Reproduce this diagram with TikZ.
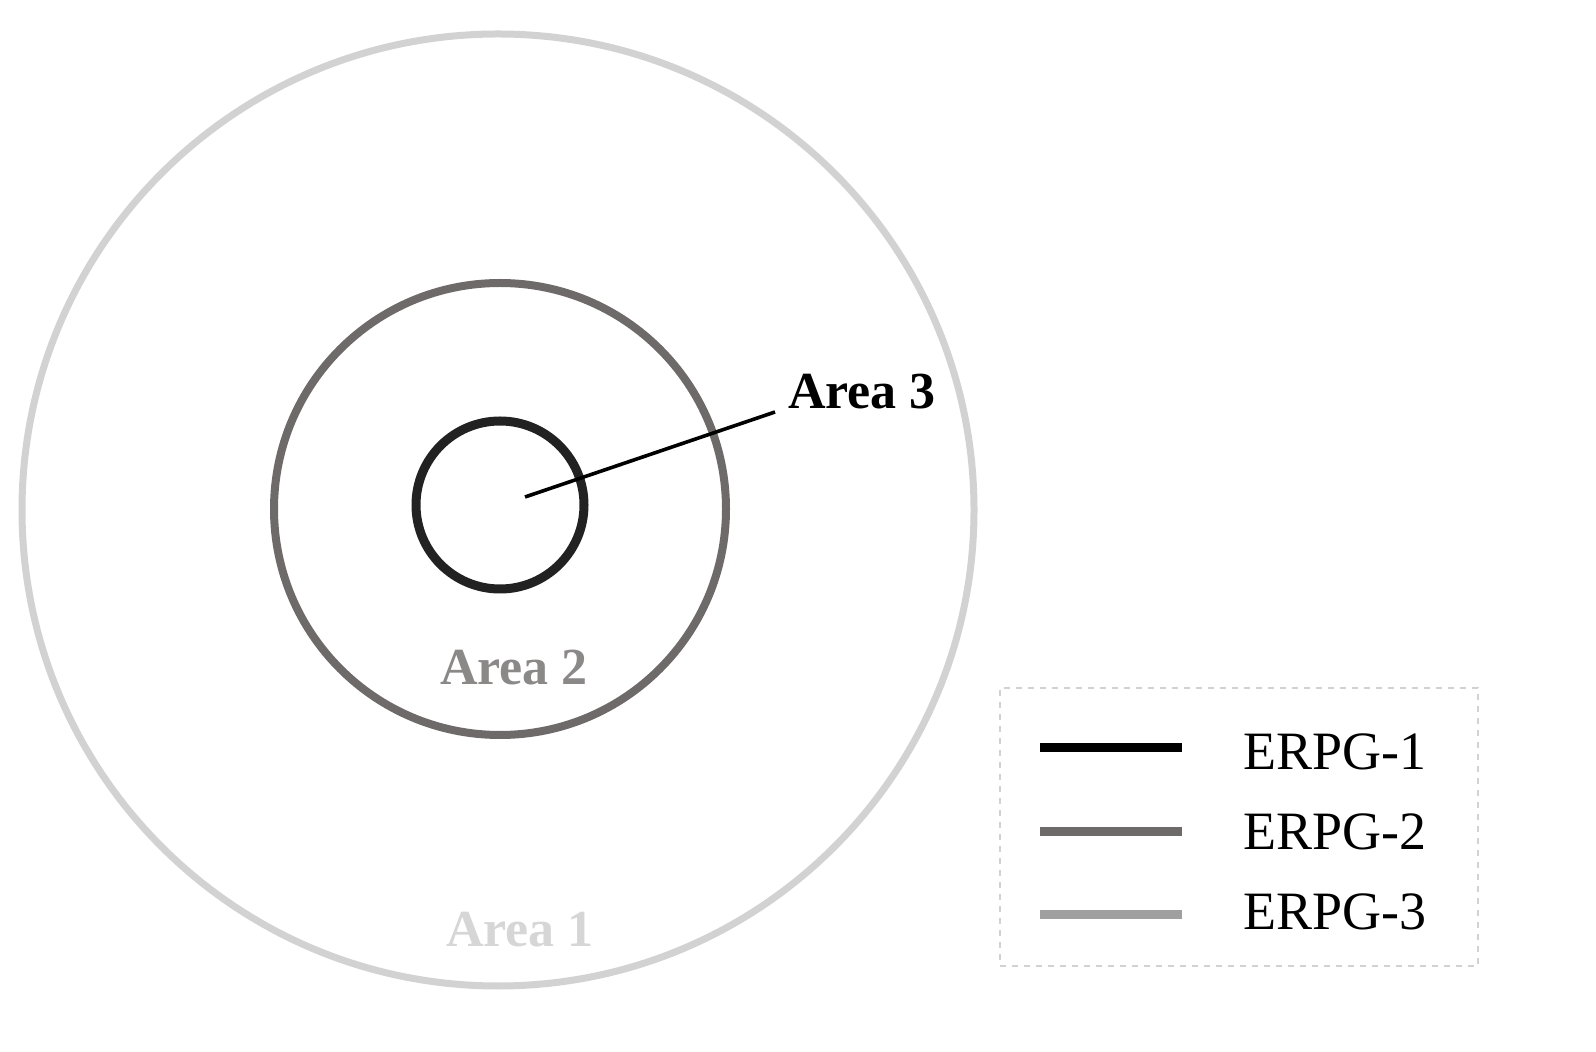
\documentclass[tikz,border=0pt]{standalone}
\usepackage{fontspec}
\setmainfont{Liberation Serif}
\begin{document}
\begin{tikzpicture}[x=0.5pt,y=-0.5pt,
  lbl/.style={font=\fontsize{26}{28}\selectfont\bfseries},
  leg/.style={font=\fontsize{27}{29}\selectfont,anchor=west}]
\definecolor{c1}{HTML}{D2D2D2}
\definecolor{c2}{HTML}{6E6A6A}
\definecolor{c3}{HTML}{222222}
\definecolor{c3l}{HTML}{A0A0A0}
\useasboundingbox (0,0) rectangle (1596,1052);
\node[draw=c1,line width=3.5pt,circle,minimum size=476pt,inner sep=0] (outer) at (498,510) {};
\node[draw=c2,line width=4pt,circle,minimum size=226pt,inner sep=0] (mid) at (500,509) {};
\node[draw=c3,line width=4.5pt,circle,minimum size=84pt,inner sep=0] (inner) at (500,505) {};
\coordinate (c) at (525,497);
\coordinate (e) at (775,412);
\draw[line width=1.8pt,black] (c) -- (e);
\node[lbl,black] (a3) at (862,392) {Area 3};
\node[lbl,text=c2!80] (a2) at (514,668) {Area 2};
\node[lbl,text=c1!90] (a1) at (520,930) {Area 1};
\node[draw=c1,dashed,line width=1pt,minimum width=239pt,minimum height=139pt,inner sep=0] (box) at (1239,827) {};
\coordinate (l1a) at (1040,748); \coordinate (l1b) at (1182,748);
\coordinate (l2a) at (1040,832); \coordinate (l2b) at (1182,832);
\coordinate (l3a) at (1040,914); \coordinate (l3b) at (1182,914);
\draw[line width=4.5pt,black] (l1a) -- (l1b);
\draw[line width=4.5pt,c2] (l2a) -- (l2b);
\draw[line width=4.5pt,c3l] (l3a) -- (l3b);
\node[leg] (t1) at (1236,752) {ERPG-1};
\node[leg] (t2) at (1236,832) {ERPG-2};
\node[leg] (t3) at (1236,912) {ERPG-3};
\end{tikzpicture}
\end{document}
